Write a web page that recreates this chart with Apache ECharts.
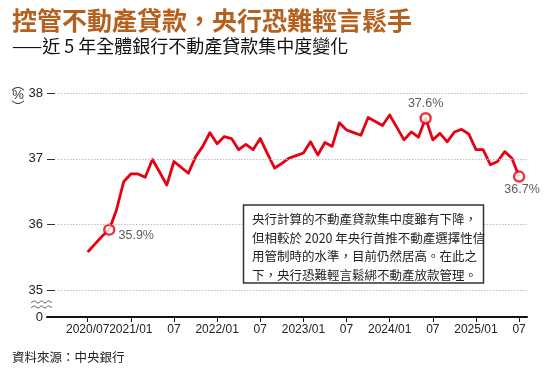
<!DOCTYPE html>
<html><head><meta charset="utf-8">
<script src="https://cdn.jsdelivr.net/npm/echarts@6/dist/echarts.min.js"></script>
<style>html,body{margin:0;padding:0;background:#fff}#c{width:550px;height:380px}</style>
</head><body><div id="c"></div>
<script>
// month index 0 = 2020/07 ... 60 = 2025/07
const values = [35.58,35.70,35.82,35.92,36.22,36.65,36.77,36.77,36.72,36.99,
                36.80,36.60,36.96,36.87,36.78,37.03,37.19,37.40,37.23,37.34,
                37.31,37.14,37.22,37.14,37.31,37.08,36.86,36.93,37.01,37.05,
                37.09,37.26,37.06,37.25,37.19,37.55,37.44,37.40,37.36,37.63,
                37.57,37.51,37.67,37.48,37.29,37.41,37.33,37.62,37.29,37.39,
                37.26,37.41,37.45,37.38,37.14,37.14,36.91,36.96,37.11,37.01,
                36.73];
const highlightIdx = [3, 47, 60];
const highlightText = ['35.9%', '37.6%', '36.7%'];
const xTickIdx = [0,6,12,18,24,30,36,42,48,54,60];
const xTickLabels = ['2020/07','2021/01','07','2022/01','07','2023/01','07','2024/01','07','2025/01','07'];
const yTicks = [35, 36, 37, 38];
const yMin = 34.588, yMax = 38;
const xMin = -5.66, xMax = 61.1, gridStartX = -4.13;

const latin = "'Liberation Sans',Arial,sans-serif";
const cjk = "'Noto Sans CJK TC','Noto Sans CJK SC',sans-serif";
const red = '#e60012';

const chart = echarts.init(document.getElementById('c'), null, {renderer: 'canvas'});
const labelPos = [
  {position: 'right', distance: 3, offset: [0, 6]},
  {position: 'top', distance: 2},
  {position: 'bottom', distance: 0, offset: [3, 0]}
];
chart.setOption({
  animation: false,
  grid: {left: 47, right: 23, top: 93.3, bottom: 63},
  xAxis: {
    type: 'value', min: xMin, max: xMax,
    splitLine: {show: false},
    axisLine: {show: true, onZero: false, lineStyle: {color: '#111', width: 2}},
    axisTick: {show: true, customValues: xTickIdx, length: 5, lineStyle: {color: '#111', width: 1}},
    axisLabel: {
      // leading empty label at the axis start keeps the first real label from being dropped
      customValues: [xMin].concat(xTickIdx), margin: 7, color: '#222', fontSize: 12, fontFamily: latin,
      hideOverlap: false,
      formatter: v => { const k = xTickIdx.indexOf(Math.round(v)); return (v > xMin + 0.5 && k >= 0) ? xTickLabels[k] : ''; }
    }
  },
  yAxis: {
    type: 'value', min: yMin, max: yMax,
    splitLine: {show: false},
    axisLine: {show: false, onZero: false},
    axisTick: {show: true, inside: true, customValues: yTicks, length: 8, lineStyle: {color: '#333', width: 1}},
    axisLabel: {
      customValues: [yMin].concat(yTicks), margin: 4, color: '#222', fontSize: 13, fontFamily: latin,
      hideOverlap: false,
      formatter: v => v < 35 ? '0' : String(Math.round(v))
    }
  },
  series: [
    {
      type: 'line', data: [], z: 1, silent: true,
      markLine: {
        silent: true, symbol: ['none', 'none'], label: {show: false},
        lineStyle: {color: '#bdbdbd', type: [1.5, 1.5], width: 1},
        data: yTicks.map(v => [{coord: [gridStartX, v]}, {coord: [xMax, v]}])
      }
    },
    {
      type: 'line', z: 3, symbol: 'none',
      data: values.map((v, i) => [i, v]),
      lineStyle: {color: red, width: 2.8, join: 'round'}
    },
    {
      type: 'scatter', z: 4, symbol: 'circle', symbolSize: 10,
      itemStyle: {color: '#fff', borderColor: red, borderWidth: 2.5},
      data: highlightIdx.map((i, k) => ({
        value: [i, values[i]],
        label: Object.assign({show: true, formatter: highlightText[k], color: '#333', fontSize: 12.5, fontFamily: latin}, labelPos[k])
      }))
    }
  ],
  graphic: [
    {type: 'text', left: 12, top: 8, style: {text: '控管不動產貸款，央行恐難輕言鬆手', font: 'bold 25px ' + cjk, fill: '#b4601e'}},
    {type: 'text', left: 12, top: 37, style: {text: '——近 5 年全體銀行不動產貸款集中度變化', font: '18px ' + cjk, fill: '#111'}},
    {type: 'text', x: 18, y: 84, style: {text: '︵', font: '13px ' + cjk, fill: '#333', align: 'center', verticalAlign: 'middle'}},
    {type: 'text', x: 18, y: 95, style: {text: '%', font: '13px ' + latin, fill: '#333', align: 'center', verticalAlign: 'middle'}},
    {type: 'text', x: 18, y: 106, style: {text: '︶', font: '13px ' + cjk, fill: '#333', align: 'center', verticalAlign: 'middle'}},
    {type: 'polyline', shape: {points: [[31,303],[34.5,301],[38,303],[41.5,301],[45,303],[48.5,301],[52,303]], smooth: 0.5}, style: {stroke: '#555', lineWidth: 1, fill: null}},
    {type: 'polyline', shape: {points: [[31,308],[34.5,306],[38,308],[41.5,306],[45,308],[48.5,306],[52,308]], smooth: 0.5}, style: {stroke: '#555', lineWidth: 1, fill: null}},
    {type: 'rect', shape: {x: 243.5, y: 205, width: 240, height: 78}, style: {fill: '#fff', stroke: '#333', lineWidth: 1.5}, z: 10},
    {type: 'text', x: 252, y: 210, z: 11, style: {
      text: '央行計算的不動產貸款集中度雖有下降，\n但相較於 2020 年央行首推不動產選擇性信\n用管制時的水準，目前仍然居高。在此之\n下，央行恐難輕言鬆綁不動產放款管理。',
      font: '12.5px ' + cjk, fill: '#222', lineHeight: 18.6}},
    {type: 'text', left: 12, top: 351, style: {text: '資料來源：中央銀行', font: '12.5px ' + cjk, fill: '#222'}}
  ]
});
</script></body></html>
